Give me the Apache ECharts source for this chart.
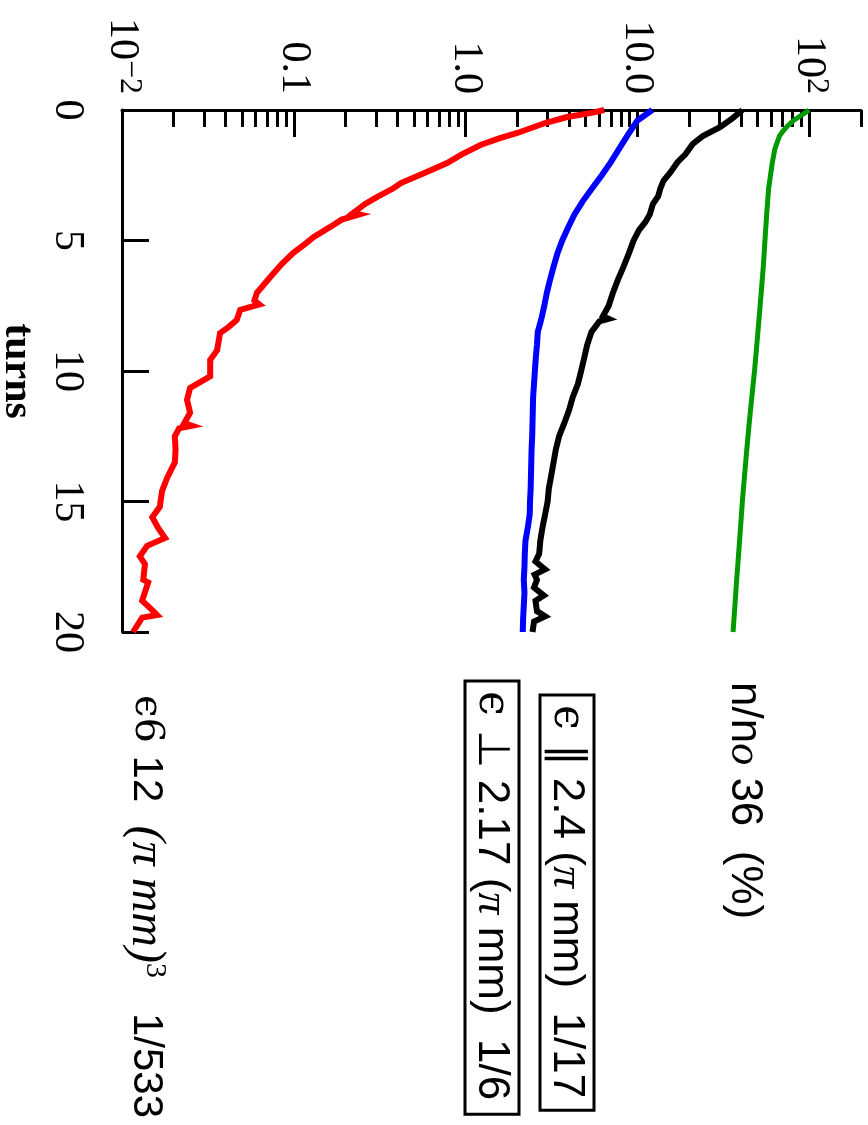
<!DOCTYPE html>
<html><head><meta charset="utf-8">
<script src="https://cdn.jsdelivr.net/npm/echarts@6/dist/echarts.min.js"></script>
<style>html,body{margin:0;padding:0;background:#fff}#c{width:868px;height:1125px}</style>
</head><body><div id="c"></div>
<script>
// ---- data (turns vs. value, log scale) ----
const turnTicks = [0, 5, 10, 15, 20];
const logMajorTicks = [0.01, 0.1, 1, 10, 100];
const logMajorLabels = ['{b|10}{s|\u22122}', '0.1', '1.0', '10.0', '{b|10}{s|2}'];
const logMinorTicks = [0.02,0.03,0.04,0.05,0.06,0.07,0.08,0.09,0.2,0.3,0.4,0.5,0.6,0.7,0.8,0.9,2,3,4,5,6,7,8,9,20,30,40,50,60,70,80,90,200];

const turnsGreen = [0,0.2,0.4,0.6,0.8,1,1.5,2,3,4,5,6,7,8,9,10,11,12,13,14,15,16,17,18,19,20];
const valuesGreen = [100,90,81,75,70.5,67,63,61,58,56.5,55.2,54,52.5,51,49.5,48,46.3,44.7,43.3,42,40.8,39.8,38.8,37.8,36.9,36];

const turnsBlue = [0,0.4,1,1.5,2,2.5,3,3.5,4,4.5,5,5.5,6,6.5,7,7.5,8,8.5,9,9.5,10,10.5,11,11.5,12,12.5,13,13.5,14,14.5,15,15.5,16,16.5,17,17.5,18,18.5,19,19.5,20];
const valuesBlue = [12.2,10,8.7,7.8,7.0,6.2,5.45,4.8,4.3,3.95,3.65,3.42,3.25,3.1,2.97,2.87,2.76,2.63,2.6,2.56,2.53,2.5,2.47,2.46,2.45,2.44,2.42,2.41,2.4,2.39,2.37,2.36,2.3,2.23,2.21,2.2,2.18,2.2,2.18,2.16,2.15];

const turnsBlack = [0,0.3,0.65,1.0,1.3,1.7,2.0,2.4,2.7,3.0,3.3,3.6,4.0,4.3,4.6,5.0,5.5,6.0,6.5,7.0,7.5,7.9,8.0,8.1,8.5,9.0,9.5,10.0,10.5,11,11.5,12,12.5,13,13.5,14,14.5,15,15.5,16,16.5,17,17.3,17.6,17.8,18,18.3,18.6,18.8,19.2,19.4,19.6,20];
const valuesBlack = [40.8,36,30.4,24,21,19,17.1,15.5,14.2,13.6,13.2,12.3,11.8,11.1,10.2,9.5,8.9,8.3,7.7,7.2,6.8,6.3,6.8,6.0,5.4,5.1,4.9,4.7,4.5,4.2,4.0,3.75,3.5,3.35,3.25,3.15,3.05,3.0,2.9,2.8,2.72,2.68,2.55,2.9,2.52,2.6,2.5,2.85,2.55,2.6,2.9,2.5,2.45];

const turnsRed = [0,0.1,0.27,0.5,0.88,1.1,1.34,1.7,2.03,2.4,2.8,3.0,3.33,3.6,3.95,4.0,4.2,4.48,4.87,5.1,5.48,5.9,6.4,7.0,7.3,7.45,7.66,8.05,8.3,8.55,9.2,9.58,10.2,10.4,10.65,11.1,11.6,12.0,12.1,12.2,12.5,13.0,13.5,14.1,14.6,15.2,15.6,16.0,16.4,16.7,17.1,17.4,18.0,18.1,18.8,19.2,19.35,19.45,20];
const valuesRed = [6.4,5.5,3.9,2.9,2.0,1.55,1.22,0.95,0.78,0.58,0.42,0.38,0.306,0.26,0.221,0.24,0.19,0.163,0.130,0.118,0.099,0.085,0.073,0.061,0.059,0.063,0.0487,0.0465,0.042,0.0372,0.0358,0.0326,0.0326,0.029,0.0249,0.0239,0.0249,0.023,0.0255,0.0215,0.0203,0.0205,0.0203,0.0183,0.0171,0.0166,0.015,0.0162,0.0178,0.014,0.0127,0.0136,0.0133,0.0142,0.0131,0.0152,0.016,0.0131,0.0116];

function pairs(turns, vals) {
  const n = Math.min(turns.length, vals.length);
  const out = [];
  for (let i = 0; i < n; i++) out.push([vals[i], turns[i]]);
  return out;
}

const SERIF = 'Liberation Serif';
const SANS = 'Liberation Sans';

const chart = echarts.init(document.getElementById('c'), null, {renderer: 'canvas'});

function line(name, color, width, data) {
  return {
    name, type: 'line', xAxisIndex: 0, yAxisIndex: 0,
    data, showSymbol: false, symbol: 'none', smooth: false,
    lineStyle: {color, width, join: 'miter'},
    animation: false, silent: true, z: 3
  };
}

const rot = -Math.PI / 2;
chart.setOption({
  backgroundColor: '#fff',
  animation: false,
  grid: {left: 122, top: 110, right: 7, bottom: 493, containLabel: false, outerBoundsMode: 'none'},
  xAxis: [
    {
      type: 'log', logBase: 10, position: 'top', min: 0.01, max: 200,
      axisLine: {show: true, lineStyle: {color: '#000', width: 3}},
      axisTick: {show: true, inside: true, length: 27, lineStyle: {color: '#000', width: 3}, customValues: logMajorTicks},
      axisLabel: {
        show: true, rotate: -90, margin: 16, color: '#000',
        fontFamily: SERIF, fontSize: 42,
        customValues: logMajorTicks,
        formatter: function (v) { return logMajorLabels[Math.round(Math.log10(v)) + 2]; },
        rich: {
          b: {fontFamily: SERIF, fontSize: 42, color: '#000', lineHeight: 46},
          s: {fontFamily: SERIF, fontSize: 32, color: '#000', verticalAlign: 'top', lineHeight: 30}
        }
      },
      splitLine: {show: false}, minorTick: {show: false}, minorSplitLine: {show: false}
    },
    {
      type: 'log', logBase: 10, position: 'top', min: 0.01, max: 200, offset: 0,
      axisLine: {show: false},
      axisTick: {show: true, inside: true, length: 17, lineStyle: {color: '#000', width: 3}, customValues: logMinorTicks},
      axisLabel: {show: false},
      splitLine: {show: false}
    }
  ],
  yAxis: {
    type: 'value', inverse: true, min: 0, max: 20, interval: 5, position: 'left',
    axisLine: {show: true, lineStyle: {color: '#000', width: 3}},
    axisTick: {show: true, inside: true, length: 27, lineStyle: {color: '#000', width: 3}, customValues: turnTicks},
    axisLabel: {rotate: -90, margin: 34, color: '#000', fontFamily: SERIF, fontSize: 42, customValues: turnTicks},
    splitLine: {show: false},
    name: 'turns', nameLocation: 'middle', nameRotate: -90, nameGap: 80,
    nameTextStyle: {fontFamily: SERIF, fontWeight: 'bold', fontSize: 42, color: '#000'}
  },
  series: [
    line('n/no', '#009900', 5, pairs(turnsGreen, valuesGreen)),
    line('eps par', '#000000', 6, pairs(turnsBlack, valuesBlack)),
    line('eps perp', '#0000ff', 6, pairs(turnsBlue, valuesBlue)),
    line('eps6', '#ff0000', 6, pairs(turnsRed, valuesRed))
  ],
  graphic: [
    {
      type: 'text', x: 744, y: 682, rotation: rot, silent: true,
      style: {
        text: '{a|n/n}{o|o}{a| 36  (%)}', align: 'left', verticalAlign: 'middle',
        rich: {
          a: {fontFamily: SANS, fontSize: 44, fill: '#000'},
          o: {fontFamily: SERIF, fontStyle: 'italic', fontSize: 44, fill: '#000'}
        }
      }
    },
    {
      type: 'text', x: 567, y: 695, rotation: rot, silent: true,
      style: {
        text: '{e|\u03f5 }{a|\u2225 2.4 (}{p|\u03c0}{a| mm)  1/17}', align: 'left', verticalAlign: 'middle',
        borderColor: '#000', borderWidth: 3, padding: [6, 12, 4, 10],
        rich: {
          a: {fontFamily: SANS, fontSize: 44, fill: '#000'},
          e: {fontFamily: 'DejaVu Serif', fontSize: 44, fill: '#000'},
          p: {fontFamily: SERIF, fontStyle: 'italic', fontSize: 44, fill: '#000'}
        }
      }
    },
    {
      type: 'text', x: 492, y: 681, rotation: rot, silent: true,
      style: {
        text: '{e|\u03f5 }{a|\u22a5 2.17 (}{p|\u03c0}{a| mm)  1/6}', align: 'left', verticalAlign: 'middle',
        borderColor: '#000', borderWidth: 3, padding: [6, 14, 4, 10],
        rich: {
          a: {fontFamily: SANS, fontSize: 44, fill: '#000'},
          e: {fontFamily: 'DejaVu Serif', fontSize: 44, fill: '#000'},
          p: {fontFamily: SERIF, fontStyle: 'italic', fontSize: 44, fill: '#000'}
        }
      }
    },
    {
      type: 'text', x: 146, y: 695, rotation: rot, silent: true,
      style: {
        text: '{e|\u03f56 }{a|12  }{p|(\u03c0 mm)}{u|3}{a|   1/533}', align: 'left', verticalAlign: 'middle',
        rich: {
          a: {fontFamily: SANS, fontSize: 42, fill: '#000', lineHeight: 48},
          e: {fontFamily: 'DejaVu Serif', fontSize: 40, fill: '#000', lineHeight: 48},
          p: {fontFamily: SERIF, fontStyle: 'italic', fontSize: 48, fill: '#000', lineHeight: 48},
          u: {fontFamily: SERIF, fontSize: 30, fill: '#000', verticalAlign: 'top', lineHeight: 30}
        }
      }
    }
  ]
});
</script>
</body></html>
